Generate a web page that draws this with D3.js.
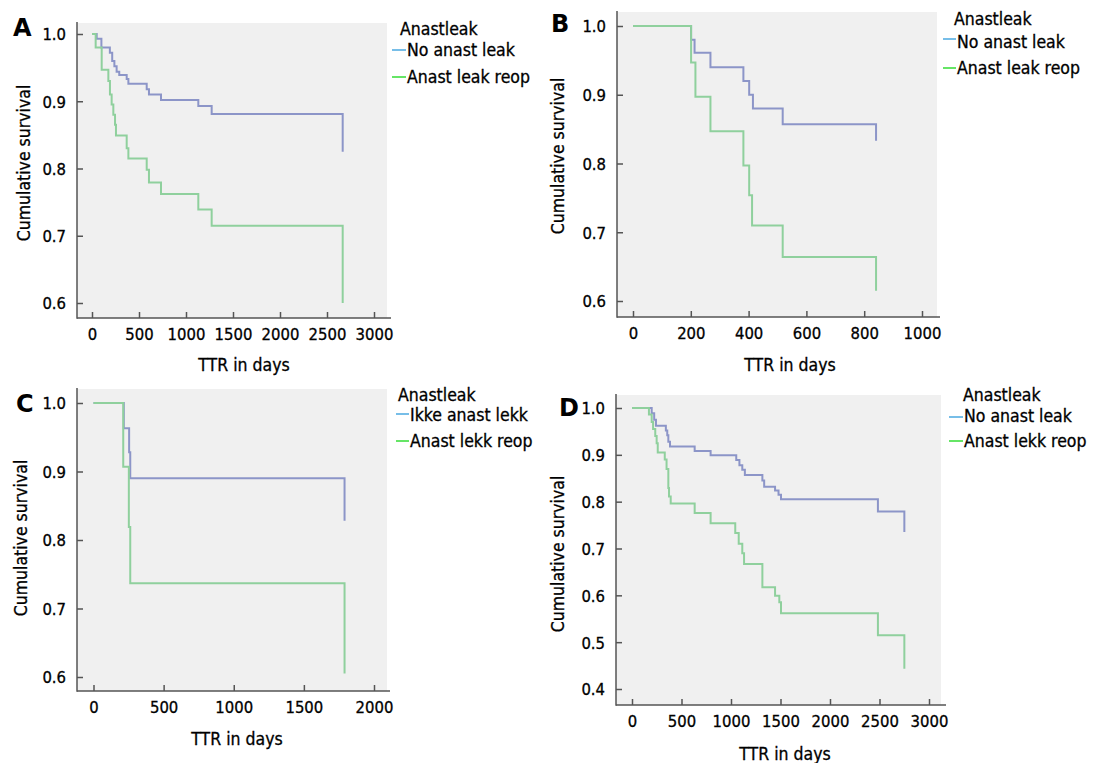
<!DOCTYPE html>
<html>
<head>
<meta charset="utf-8">
<script src="https://cdn.jsdelivr.net/npm/d3@7"></script>
<style>
  body { margin: 0; background: #fff; }
  svg { display: block; }
  text { font-family: "DejaVu Sans Condensed", "DejaVu Sans", sans-serif; fill: #000; stroke: #000; stroke-width: 0.3px; }
</style>
</head>
<body>
<div id="chart"></div>
<script>
// tick labels
var ticks3000 = [0, 500, 1000, 1500, 2000, 2500, 3000];
var ticks2000 = [0, 500, 1000, 1500, 2000];
var ticks1000 = [0, 200, 400, 600, 800, 1000];
var ticksY6 = [0.6, 0.7, 0.8, 0.9, 1.0];
var ticksY4 = [0.4, 0.5, 0.6, 0.7, 0.8, 0.9, 1.0];

// legend texts
var legendTitle = "Anastleak";
var legendA = ["No anast leak", "Anast leak reop"];
var legendB = ["No anast leak", "Anast leak reop"];
var legendC = ["Ikke anast lekk", "Anast lekk reop"];
var legendD = ["No anast leak", "Anast lekk reop"];

// survival curves [day, cumulative survival]
var aNoLeak = [[0,1],[50,0.993],[100,0.98],[190,0.972],[215,0.96],[238,0.952],[262,0.944],[290,0.939],[369,0.933],[387,0.926],[582,0.918],[606,0.91],[734,0.902],[1131,0.893],[1273,0.881],[2667,0.825]];
var aReop = [[0,1],[39,0.98],[103,0.947],[174,0.93],[191,0.91],[209,0.895],[227,0.88],[245,0.865],[255,0.849],[369,0.83],[387,0.815],[582,0.798],[606,0.779],[734,0.762],[1131,0.739],[1273,0.715],[2667,0.6]];

var bNoLeak = [[0,1],[201,0.98],[213,0.961],[268,0.94],[382,0.92],[402,0.9],[415,0.88],[518,0.857],[841,0.833]];
var bReop = [[0,1],[201,0.947],[216,0.897],[268,0.847],[382,0.797],[402,0.754],[412,0.71],[518,0.664],[841,0.615]];

var cNoLeak = [[0,1],[216,0.963],[254,0.928],[262,0.89],[1790,0.828]];
var cReop = [[0,1],[212,0.907],[252,0.819],[262,0.737],[1790,0.605]];

var dNoLeak = [[0,1],[199,0.989],[224,0.975],[242,0.962],[342,0.952],[356,0.942],[367,0.928],[384,0.918],[633,0.908],[794,0.899],[1053,0.889],[1085,0.878],[1114,0.868],[1140,0.857],[1317,0.845],[1335,0.832],[1445,0.824],[1480,0.815],[1505,0.805],[2484,0.779],[2751,0.735]];
var dReop = [[0,1],[171,0.986],[199,0.97],[213,0.955],[235,0.94],[249,0.925],[260,0.905],[331,0.89],[349,0.87],[367,0.829],[374,0.811],[391,0.796],[633,0.776],[794,0.754],[1043,0.733],[1078,0.71],[1114,0.69],[1132,0.667],[1317,0.617],[1445,0.599],[1488,0.585],[1505,0.562],[2484,0.515],[2751,0.443]];

var curveColors = ["#8c95c8", "#8fd09d"];
var legendColors = ["#4aa8e0", "#33dd33"];

var panels = [
  {letter: "A", series: [aNoLeak, aReop], legend: legendA, xTicks: ticks3000, yTicks: ticksY6,
   x: [92, 374], y: [303, 34], bg: {l: 77, r: 387, t: 23, b: 318}, axisEnd: 391,
   letterPos: [13, 36], yTitle: [30, 163], xTitle: [244, 371],
   leg: {hx: 400, hy: 35, lx: 392, tx: 407, rows: [[50, 56], [77, 83]]}},
  {letter: "B", series: [bNoLeak, bReop], legend: legendB, xTicks: ticks1000, yTicks: ticksY6,
   x: [633, 922], y: [301, 26], bg: {l: 617, r: 937, t: 12, b: 317}, axisEnd: 940,
   letterPos: [551, 32], yTitle: [564, 156], xTitle: [790, 371],
   leg: {hx: 954, hy: 25, lx: 943, tx: 957, rows: [[39, 48], [68, 74]]}},
  {letter: "C", series: [cNoLeak, cReop], legend: legendC, xTicks: ticks2000, yTicks: ticksY6,
   x: [93.5, 374], y: [677, 403], bg: {l: 77, r: 387, t: 389, b: 691}, axisEnd: 390,
   letterPos: [16, 412], yTitle: [27, 538], xTitle: [237, 745],
   leg: {hx: 398, hy: 401, lx: 396, tx: 410, rows: [[414, 421], [441, 447]]}},
  {letter: "D", series: [dNoLeak, dReop], legend: legendD, xTicks: ticks3000, yTicks: ticksY4,
   x: [632, 929], y: [689, 408], bg: {l: 616, r: 941, t: 395, b: 705}, axisEnd: 946,
   letterPos: [559, 416], yTitle: [564, 554], xTitle: [785, 760],
   leg: {hx: 963, hy: 401, lx: 949, tx: 964, rows: [[417, 422], [441, 447]]}}
];

var svg = d3.select("#chart").append("svg").attr("width", 1093).attr("height", 763);

panels.forEach(function(p) {
  var g = svg.append("g");
  var xDom = [p.xTicks[0], p.xTicks[p.xTicks.length - 1]];
  var yDom = [p.yTicks[0], p.yTicks[p.yTicks.length - 1]];
  var xScale = d3.scaleLinear().domain(xDom).range(p.x);
  var yScale = d3.scaleLinear().domain(yDom).range(p.y);

  // plot background
  g.append("rect")
    .attr("x", p.bg.l).attr("y", p.bg.t)
    .attr("width", p.bg.r - p.bg.l).attr("height", p.bg.b - p.bg.t)
    .attr("fill", "#f0f0f0");

  // curves
  var line = d3.line()
    .x(d => xScale(d[0]))
    .y(d => yScale(d[1]))
    .curve(d3.curveStepAfter);

  p.series.forEach(function(s, i) {
    g.append("path")
      .datum(s)
      .attr("d", line)
      .attr("fill", "none")
      .attr("stroke", curveColors[i])
      .attr("stroke-width", 2);
  });

  // axes
  var xAxis = d3.axisBottom(xScale).tickValues(p.xTicks).tickSize(-6).tickSizeOuter(0).tickPadding(10).tickFormat(d3.format("d"));
  var yAxis = d3.axisLeft(yScale).tickValues(p.yTicks).tickSize(-6).tickSizeOuter(0).tickPadding(11).tickFormat(d3.format(".1f"));

  var gx = g.append("g").attr("transform", `translate(0, ${p.bg.b})`).call(xAxis);
  var gy = g.append("g").attr("transform", `translate(${p.bg.l}, 0)`).call(yAxis);
  [gx, gy].forEach(function(a) {
    a.select(".domain").remove();
    a.selectAll("line").attr("stroke", "#555").attr("stroke-width", 1.5);
    a.selectAll("text").attr("font-size", "16.5px").attr("fill", "#000")
      .attr("font-family", "'DejaVu Sans Condensed', 'DejaVu Sans', sans-serif");
  });
  gy.selectAll("text").attr("dy", "0.36em");

  g.append("line")
    .attr("x1", p.bg.l).attr("x2", p.bg.l).attr("y1", p.bg.t - 1).attr("y2", p.bg.b + 0.75)
    .attr("stroke", "#555").attr("stroke-width", 1.5);
  g.append("line")
    .attr("x1", p.bg.l).attr("x2", p.axisEnd).attr("y1", p.bg.b).attr("y2", p.bg.b)
    .attr("stroke", "#555").attr("stroke-width", 1.5);

  // titles
  g.append("text")
    .attr("transform", `translate(${p.yTitle[0]}, ${p.yTitle[1]}) rotate(-90)`)
    .attr("text-anchor", "middle")
    .attr("font-size", "17.5px")
    .text("Cumulative survival");

  g.append("text")
    .attr("x", p.xTitle[0]).attr("y", p.xTitle[1])
    .attr("text-anchor", "middle")
    .attr("font-size", "17.5px")
    .text("TTR in days");

  g.append("text")
    .attr("x", p.letterPos[0]).attr("y", p.letterPos[1])
    .attr("font-size", "24px")
    .attr("font-weight", "bold")
    .style("font-family", "'DejaVu Sans', sans-serif")
    .style("stroke", "none")
    .text(p.letter);

  // legend
  g.append("text")
    .attr("x", p.leg.hx).attr("y", p.leg.hy)
    .attr("font-size", "17.5px")
    .text(legendTitle);

  p.legend.forEach(function(name, i) {
    g.append("line")
      .attr("x1", p.leg.lx).attr("x2", p.leg.tx - 1)
      .attr("y1", p.leg.rows[i][0]).attr("y2", p.leg.rows[i][0])
      .attr("stroke", legendColors[i]).attr("stroke-width", 1.5);
    g.append("text")
      .attr("x", p.leg.tx).attr("y", p.leg.rows[i][1])
      .attr("font-size", "17.5px")
      .text(name);
  });
});
</script>
</body>
</html>
